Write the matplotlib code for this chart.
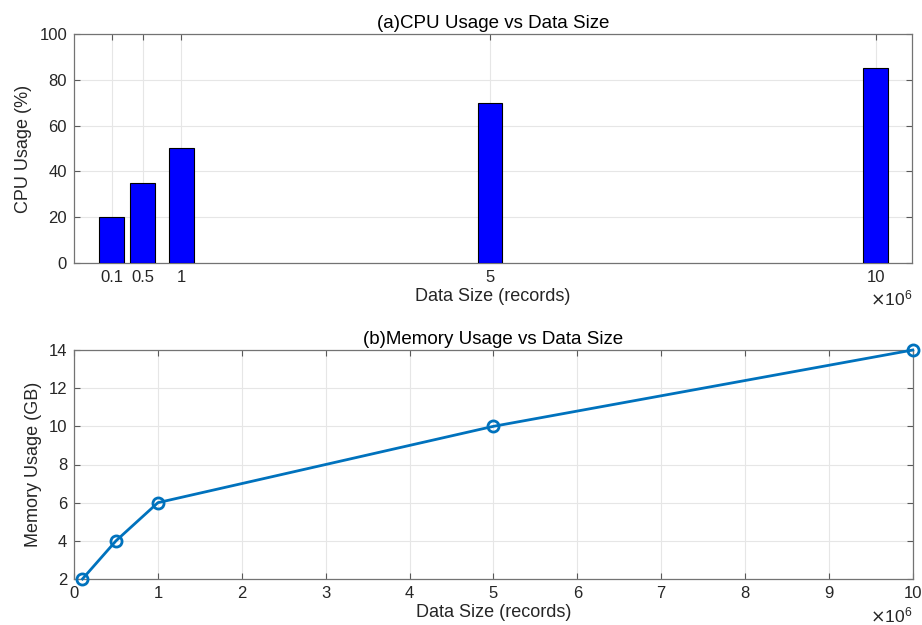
import matplotlib.pyplot as plt

# data sizes in records
sizes = [0.1e6, 0.5e6, 1e6, 5e6, 10e6]
size_labels = ['0.1', '0.5', '1', '5', '10']
cpu_usage = [20, 35, 50, 70, 85]
mem_usage = [2, 4, 6, 10, 14]

plt.rcParams['font.family'] = ['Liberation Sans', 'DejaVu Sans']
txt = '#262626'
grid_c = '#e6e6e6'


def matlab_style(ax):
    ax.tick_params(direction='in', top=True, right=True, labelsize=12,
                   colors='0.35', labelcolor=txt, length=4, pad=5)
    for s in ax.spines.values():
        s.set_color('0.45')
        s.set_linewidth(0.9)
    ax.grid(True, color=grid_c, linewidth=0.8)
    ax.set_axisbelow(True)


def power_label(ax, dy):
    ax.annotate(r'$\times\mathregular{10^6}$', xy=(1, 0), xycoords='axes fraction',
                xytext=(0, dy), textcoords='offset pixels', ha='right', va='center',
                fontsize=12.5, color=txt)


fig = plt.figure(figsize=(9.22, 6.25), dpi=100)

# (a) CPU usage bars
ax1 = fig.add_axes([0.0803, 0.5792, 0.9087, 0.3664])
ax1.bar(sizes, cpu_usage, width=0.32e6, color='#0000ff', edgecolor='black',
        linewidth=0.8, zorder=3)
ax1.set_xlim(-0.39e6, 10.47e6)
ax1.set_ylim(0, 100)
ax1.set_xticks(sizes)
ax1.set_xticklabels(size_labels)
ax1.set_yticks(range(0, 101, 20))
matlab_style(ax1)
ax1.set_title('(a)CPU Usage vs Data Size', fontsize=13.5, color='black', pad=4)
ax1.set_xlabel('Data Size (records)', fontsize=13, color=txt, labelpad=2)
ax1.set_ylabel('CPU Usage (%)', fontsize=13, color=txt, labelpad=5)
power_label(ax1, -35)

# (b) memory usage line
ax2 = fig.add_axes([0.0803, 0.0736, 0.9097, 0.3664])
ax2.plot(sizes, mem_usage, color='#0072bd', linewidth=2, marker='o',
         markersize=8, markerfacecolor='none', markeredgewidth=2,
         clip_on=False, zorder=3)
ax2.set_xlim(0, 10e6)
ax2.set_ylim(2, 14)
ax2.set_xticks([i * 1e6 for i in range(11)])
ax2.set_xticklabels([str(i) for i in range(11)])
ax2.set_yticks(range(2, 15, 2))
matlab_style(ax2)
ax2.set_title('(b)Memory Usage vs Data Size', fontsize=13.5, color='black', pad=4)
ax2.set_xlabel('Data Size (records)', fontsize=13, color=txt, labelpad=2)
ax2.set_ylabel('Memory Usage (GB)', fontsize=13, color=txt, labelpad=5)
power_label(ax2, -36)

fig.savefig('out.png', dpi=100)
